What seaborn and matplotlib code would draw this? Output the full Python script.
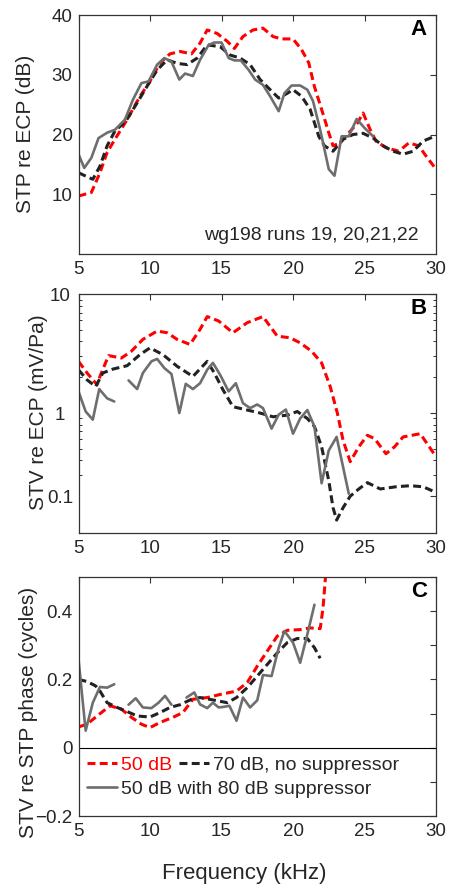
import numpy as np
import pandas as pd
import seaborn as sns
import matplotlib.pyplot as plt
from matplotlib.lines import Line2D
from matplotlib.ticker import FixedLocator, FixedFormatter, NullFormatter

# Panel A: STP re ECP (dB)
a_red_f = [5.0, 5.9, 6.5, 7.0, 7.55, 8.4, 9.3, 10.0, 10.7, 11.4, 12.1, 12.9, 13.5, 14.0, 14.7,
           15.4, 15.9, 16.5, 17.2, 17.9, 18.6, 19.2, 20.0, 20.6, 21.1, 21.5, 22.0, 22.5, 22.8,
           23.3, 23.8, 24.5, 24.9, 25.4, 25.8, 26.5, 27.4, 28.1, 28.8, 29.3, 30.0]
a_red_v = [9.7, 10.3, 13.6, 17.0, 19.2, 22.5, 26.4, 28.9, 32.0, 33.5, 33.9, 33.5, 35.3, 37.5, 36.9,
           35.6, 34.4, 36.4, 37.5, 37.8, 36.4, 36.0, 36.0, 34.2, 32.0, 28.0, 24.2, 20.3, 18.1,
           18.6, 20.0, 21.9, 23.6, 20.8, 18.9, 17.8, 17.2, 18.6, 18.1, 16.4, 14.2]
a_blk_f = [5.0, 6.0, 6.5, 7.0, 7.55, 8.3, 9.1, 9.8, 10.5, 11.2, 11.9, 12.6, 13.3, 14.0, 14.9,
           15.6, 16.3, 17.0, 17.7, 18.4, 19.0, 19.6, 20.0, 20.6, 21.2, 21.8, 22.2, 22.8, 23.5,
           24.2, 24.9, 25.6, 26.3, 27.0, 27.7, 28.4, 29.1, 30.0]
a_blk_v = [13.6, 12.5, 14.7, 18.1, 20.6, 22.2, 25.3, 28.1, 30.8, 32.5, 31.9, 31.7, 32.8, 35.0, 34.7,
           33.3, 32.8, 31.7, 29.2, 27.5, 26.1, 26.9, 27.5, 26.4, 24.2, 19.7, 18.1, 17.2, 19.2,
           20.0, 20.2, 19.4, 18.1, 17.2, 16.7, 17.2, 18.9, 19.8]
a_gry_f = [5.0, 5.4, 5.9, 6.4, 7.0, 7.55, 8.25, 8.8, 9.4, 9.9, 10.5, 11.0, 11.5, 12.05, 12.45,
           13.0, 13.5, 14.1, 14.5, 15.0, 15.5, 15.9, 16.35, 16.9, 17.35, 17.9, 18.4, 19.0, 19.4,
           19.9, 20.5, 21.0, 21.4, 21.9, 22.5, 22.9, 23.4, 23.9, 24.45, 25.0, 25.6]
a_gry_v = [16.7, 14.4, 16.1, 19.4, 20.3, 20.8, 22.5, 25.8, 28.6, 28.9, 31.7, 32.8, 32.2, 29.2, 30.2,
           29.8, 32.5, 35.0, 35.4, 35.4, 32.8, 32.4, 32.4, 30.8, 29.2, 28.3, 26.4, 23.9, 26.9,
           28.2, 28.2, 27.5, 25.6, 20.8, 14.2, 13.1, 19.7, 19.7, 22.6, 21.1, 19.7]

# Panel B: STV re ECP (mV/Pa), log axis
b_red_f = [5.0, 5.6, 6.3, 6.5, 7.1, 8.0, 8.7, 9.5, 10.5, 11.2, 11.9, 12.8, 13.5, 14.0, 14.8,
           15.8, 16.8, 17.9, 18.9, 19.8, 20.5, 21.3, 22.0, 22.6, 23.1, 23.5, 24.0, 24.6, 25.2,
           25.7, 26.5, 27.1, 27.7, 28.9, 30.0]
b_red_v = [2.72, 2.17, 1.73, 2.03, 3.04, 2.9, 3.31, 4.16, 4.89, 4.73, 4.16, 3.77, 5.05, 6.47, 5.94,
           4.73, 5.75, 6.47, 4.43, 4.29, 3.89, 3.31, 2.64, 1.67, 1.0, 0.59, 0.39, 0.52, 0.65,
           0.61, 0.455, 0.52, 0.63, 0.67, 0.43]
b_blk_f = [5.0, 5.6, 6.2, 6.7, 7.4, 8.4, 9.3, 10.0, 10.9, 11.9, 13.0, 14.0, 14.5, 15.1, 15.8,
           16.8, 17.7, 18.6, 19.6, 20.3, 21.0, 21.5, 22.0, 22.5, 22.8, 23.05, 23.5, 24.0, 24.6,
           25.2, 26.1, 27.2, 28.2, 29.1, 30.0]
b_blk_v = [2.31, 1.9, 1.67, 2.17, 2.34, 2.5, 3.1, 3.53, 3.1, 2.47, 2.03, 2.72, 2.17, 1.57, 1.13,
           1.06, 1.0, 0.93, 0.96, 1.03, 0.9, 0.77, 0.52, 0.27, 0.16, 0.126, 0.16, 0.2, 0.23,
           0.26, 0.23, 0.24, 0.245, 0.24, 0.215]
b_gry_f = [5.0, 5.5, 6.0, 6.45, 7.0, 7.5, 8.0,
           8.5, 9.1, 9.5, 10.1, 10.5, 11.0, 11.5, 12.05, 12.5, 13.0, 13.5, 14.0, 14.4, 14.9,
           15.5, 16.0, 16.5, 17.0, 17.5, 17.9, 18.5, 19.0, 19.5, 20.0, 20.5, 21.0, 21.5, 22.0,
           22.5, 23.05, 23.9]
b_gry_v = [1.52, 1.03, 0.88, 1.59, 1.33, 1.25, np.nan,
           1.88, 1.59, 2.17, 2.72, 2.85, 2.39, 2.13, 1.0, 1.76, 1.59, 1.78, 2.31, 2.64, 2.1,
           1.52, 1.78, 1.21, 1.1, 1.18, 1.1, 0.74, 0.97, 1.07, 0.67, 0.9, 1.06, 0.77, 0.257,
           0.485, 0.63, 0.21]

# Panel C: STV re STP phase (cycles)
c_red_f = [5.0, 5.6, 6.3, 7.2, 8.0, 8.7, 9.4, 10.0, 10.7, 11.6, 12.3, 13.0, 14.0, 15.0, 16.05,
           16.8, 17.5, 18.2, 18.9, 19.6, 20.5, 21.2, 21.9, 22.1, 22.5]
c_red_v = [0.061, 0.069, 0.093, 0.123, 0.113, 0.089, 0.069, 0.059, 0.074, 0.089, 0.103, 0.142,
           0.147, 0.157, 0.166, 0.191, 0.239, 0.283, 0.327, 0.344, 0.346, 0.351, 0.349, 0.41, 0.62]
c_blk_f = [5.0, 5.6, 6.2, 6.5, 7.0, 7.7, 8.4, 9.1, 10.0, 10.7, 11.4, 12.1, 12.9, 13.5, 14.4,
           15.4, 16.05, 16.8, 17.5, 18.2, 18.9, 19.6, 20.3, 21.0, 21.5, 21.9]
c_blk_v = [0.2, 0.194, 0.181, 0.166, 0.132, 0.118, 0.106, 0.093, 0.09, 0.103, 0.118, 0.126,
           0.142, 0.147, 0.14, 0.132, 0.147, 0.176, 0.21, 0.244, 0.278, 0.308, 0.32, 0.32,
           0.293, 0.262]
c_gry_f = [5.0, 5.5, 6.0, 6.5, 7.0, 7.5, 8.0,
           8.5, 9.0, 9.5, 10.1, 10.6, 11.05, 11.5, 12.0,
           12.55, 13.1, 13.5, 14.0, 14.4, 14.8, 15.2, 15.55, 16.05, 16.5, 17.0, 17.5, 17.9,
           18.5, 19.0, 19.4, 20.0, 20.5, 21.0, 21.5]
c_gry_v = [0.259, 0.05, 0.132, 0.178, 0.176, 0.186, np.nan,
           0.126, 0.145, 0.118, 0.116, 0.132, 0.152, 0.126, np.nan,
           0.147, 0.162, 0.127, 0.116, 0.132, 0.118, 0.12, 0.123, 0.079, 0.147, 0.118, 0.139,
           0.213, 0.21, 0.293, 0.342, 0.308, 0.249, 0.332, 0.419]

labels = ["50 dB", "70 dB, no suppressor", "50 dB with 80 dB suppressor"]

RED = "#ff0000"
BLK = "#222222"
GRY = "#6e6e6e"
DASH = (0, (2.6, 1.4))
TXT = "#262626"

sns.set_theme(style="white")
plt.rcParams["font.family"] = ["Liberation Sans", "DejaVu Sans"]
plt.rcParams["axes.unicode_minus"] = True


def draw(ax, f, v, color, ls, lw):
    df = pd.DataFrame({"f": f, "v": v})
    df["seg"] = df["v"].isna().cumsum()
    df = df.dropna()
    for _, part in df.groupby("seg"):
        sns.lineplot(data=part, x="f", y="v", ax=ax, color=color, linestyle=ls,
                     linewidth=lw, estimator=None, sort=False, legend=False)


fig = plt.figure(figsize=(4.53, 8.89), dpi=100)
L, W, H = 0.1733, 0.7892, 0.2688
axA = fig.add_axes([L, 0.7143, W, H])
axB = fig.add_axes([L, 0.4004, W, H])
axC = fig.add_axes([L, 0.0821, W, H])

axB.set_yscale("log")

draw(axA, a_red_f, a_red_v, RED, DASH, 2.2)
draw(axA, a_blk_f, a_blk_v, BLK, DASH, 2.2)
draw(axA, a_gry_f, a_gry_v, GRY, "-", 1.9)

draw(axB, b_red_f, b_red_v, RED, DASH, 2.2)
draw(axB, b_blk_f, b_blk_v, BLK, DASH, 2.2)
draw(axB, b_gry_f, b_gry_v, GRY, "-", 1.9)

axC.axhline(0, color="black", lw=0.8, zorder=1)
draw(axC, c_red_f, c_red_v, RED, DASH, 2.2)
draw(axC, c_blk_f, c_blk_v, BLK, DASH, 2.2)
draw(axC, c_gry_f, c_gry_v, GRY, "-", 1.9)

for ax in (axA, axB, axC):
    ax.set_xlim(5, 30)
    ax.set_xticks([5, 10, 15, 20, 25, 30])
    ax.set_xlabel("")
    ax.set_ylabel("")
    ax.tick_params(which="major", direction="in", top=True, right=True, length=4.5,
                   width=0.8, color="#333333", labelsize=13.5, labelcolor=TXT)
    ax.tick_params(which="minor", direction="in", left=True, right=True, length=2.5,
                   width=0.7, color="#333333")
    ax.tick_params(axis="x", pad=5)
    ax.tick_params(axis="y", pad=4.3)
    for sp in ax.spines.values():
        sp.set_color("#333333")
        sp.set_linewidth(0.9)

axA.set_ylim(0, 40)
axA.set_yticks([10, 20, 30, 40])

axB.set_ylim(0.098, 10)
axB.yaxis.set_major_locator(FixedLocator([0.2, 1, 10]))
axB.yaxis.set_major_formatter(FixedFormatter(["0.1", "1", "10"]))
axB.yaxis.set_minor_locator(FixedLocator([0.3, 0.4, 0.5, 0.6, 0.7, 0.8, 0.9,
                                          2, 3, 4, 5, 6, 7, 8, 9]))
axB.yaxis.set_minor_formatter(NullFormatter())
axB.tick_params(axis="y", which="major", pad=13.3)
for t in axB.get_yticklabels():
    t.set_horizontalalignment("center")

axC.set_ylim(-0.2, 0.5)
axC.set_yticks(np.round(np.arange(-0.2, 0.51, 0.1), 1))
axC.set_yticklabels(["\u22120.2", "", "0", "", "0.2", "", "0.4", ""])

# panel letters
for ax, letter in ((axA, "A"), (axB, "B"), (axC, "C")):
    ax.text(0.952, 0.94, letter, transform=ax.transAxes, ha="center", va="center",
            fontsize=16, fontweight="bold", color="black")

axA.text(0.65, 0.079, "wg198 runs 19, 20,21,22", transform=axA.transAxes,
         ha="center", va="center", fontsize=14, color=TXT)

# axis titles
fig.text(0.0552, 0.8493, "STP re ECP (dB)", rotation=90, ha="center", va="center",
         fontsize=15, color=TXT)
fig.text(0.084, 0.5366, "STV re ECP (mV/Pa)", rotation=90, ha="center", va="center",
         fontsize=15, color=TXT)
fig.text(0.064, 0.199, "STV re STP phase (cycles)", rotation=90, ha="center", va="center",
         fontsize=15, color=TXT)
fig.text(0.5386, 0.0169, "Frequency (kHz)", ha="center", va="center", fontsize=16, color=TXT)

# legend (two rows)
h_red = Line2D([], [], color=RED, linestyle=DASH, lw=2.2)
h_blk = Line2D([], [], color=BLK, linestyle=DASH, lw=2.2)
h_gry = Line2D([], [], color=GRY, linestyle="-", lw=1.9)
leg1 = axC.legend([h_red, h_blk], labels[:2], ncol=2, loc="center left",
                  bbox_to_anchor=(0.024, 0.213), frameon=False, fontsize=14,
                  borderpad=0, borderaxespad=0, handlelength=1.55, handletextpad=0.2,
                  columnspacing=0.36)
leg1.get_texts()[0].set_color(RED)
leg1.get_texts()[1].set_color(TXT)
axC.add_artist(leg1)
leg2 = axC.legend([h_gry], labels[2:], loc="center left",
                  bbox_to_anchor=(0.024, 0.113), frameon=False, fontsize=14,
                  borderpad=0, borderaxespad=0, handlelength=1.55, handletextpad=0.2)
leg2.get_texts()[0].set_color(TXT)

fig.savefig("out.png", dpi=100)
